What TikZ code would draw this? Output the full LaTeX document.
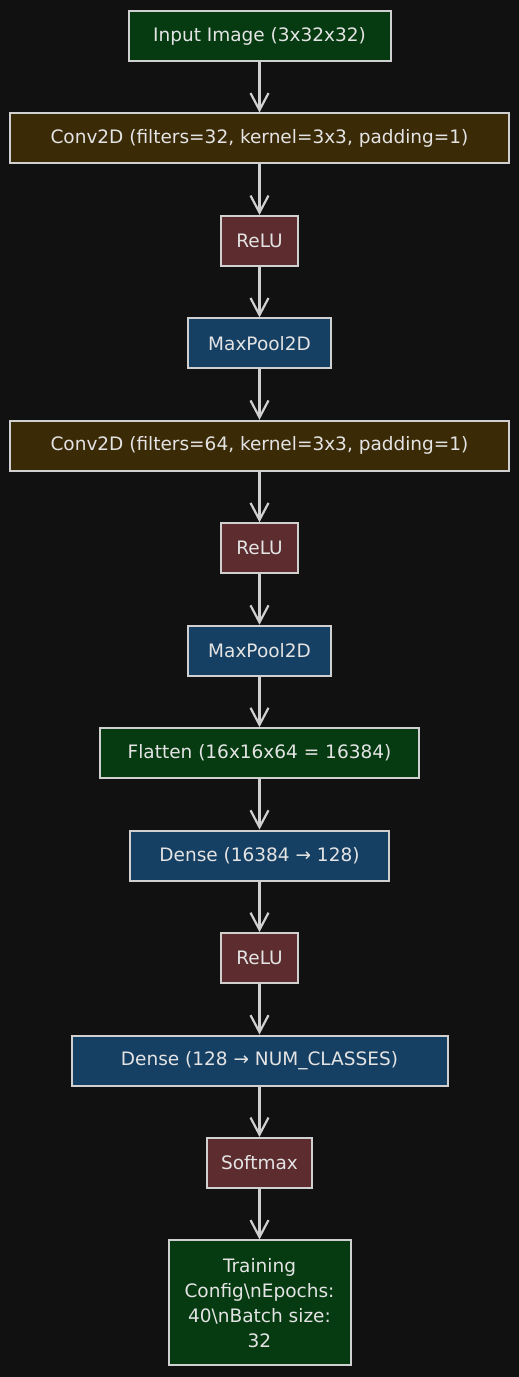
\documentclass[tikz,border=0pt]{standalone}
\usepackage{fontspec}
\setmainfont{DejaVu Sans}
\usetikzlibrary{positioning, arrows.meta}

\definecolor{bgdark}{RGB}{17,17,17}
\definecolor{edgegray}{RGB}{208,208,208}
\definecolor{txtgray}{RGB}{228,228,228}
\definecolor{inputgreen}{RGB}{6,58,17}
\definecolor{convbrown}{RGB}{58,42,6}
\definecolor{actred}{RGB}{92,44,46}
\definecolor{poolblue}{RGB}{21,63,99}

\begin{document}
\begin{tikzpicture}[
      x=1pt, y=1pt,
      node distance=50.45pt,
      layer/.style={draw=edgegray, line width=2pt, text=txtgray,
        minimum height=50pt, inner sep=0pt,
        font=\fontsize{18.5}{25}\selectfont},
      input/.style={layer, fill=inputgreen},
      conv/.style={layer, fill=convbrown},
      act/.style={layer, fill=actred},
      pool/.style={layer, fill=poolblue},
      flow/.style={draw=edgegray, line width=2.2pt,
        -{Straight Barb[length=17pt,width=18pt]}}
    ]
    \fill[bgdark] (0,0) rectangle (519,-1377);
    \node[input, minimum width=262pt] (img) at (259.5,-36) {Input Image (3x32x32)};
    \node[conv, minimum width=499pt, below=of img] (conv1) {Conv2D (filters=32, kernel=3x3, padding=1)};
    \node[act, minimum width=77pt, below=of conv1] (relu1) {ReLU};
    \node[pool, minimum width=143pt, below=of relu1] (pool1) {MaxPool2D};
    \node[conv, minimum width=499pt, below=of pool1] (conv2) {Conv2D (filters=64, kernel=3x3, padding=1)};
    \node[act, minimum width=77pt, below=of conv2] (relu2) {ReLU};
    \node[pool, minimum width=143pt, below=of relu2] (pool2) {MaxPool2D};
    \node[input, minimum width=319pt, below=of pool2] (flat) {Flatten (16x16x64 = 16384)};
    \node[pool, minimum width=259pt, below=of flat] (dense1) {Dense (16384 → 128)};
    \node[act, minimum width=77pt, below=of dense1] (relu3) {ReLU};
    \node[pool, minimum width=376pt, below=of relu3] (dense2) {Dense (128 → NUM\_CLASSES)};
    \node[act, minimum width=105pt, below=of dense2] (soft) {Softmax};
    \node[input, minimum width=182pt, minimum height=125pt, align=center, below=of soft] (train)
      {Training\\Config\textbackslash nEpochs:\\40\textbackslash nBatch size:\\32};

    \draw[flow] (img) -- (conv1);
    \draw[flow] (conv1) -- (relu1);
    \draw[flow] (relu1) -- (pool1);
    \draw[flow] (pool1) -- (conv2);
    \draw[flow] (conv2) -- (relu2);
    \draw[flow] (relu2) -- (pool2);
    \draw[flow] (pool2) -- (flat);
    \draw[flow] (flat) -- (dense1);
    \draw[flow] (dense1) -- (relu3);
    \draw[flow] (relu3) -- (dense2);
    \draw[flow] (dense2) -- (soft);
    \draw[flow] (soft) -- (train);
\end{tikzpicture}
\end{document}
